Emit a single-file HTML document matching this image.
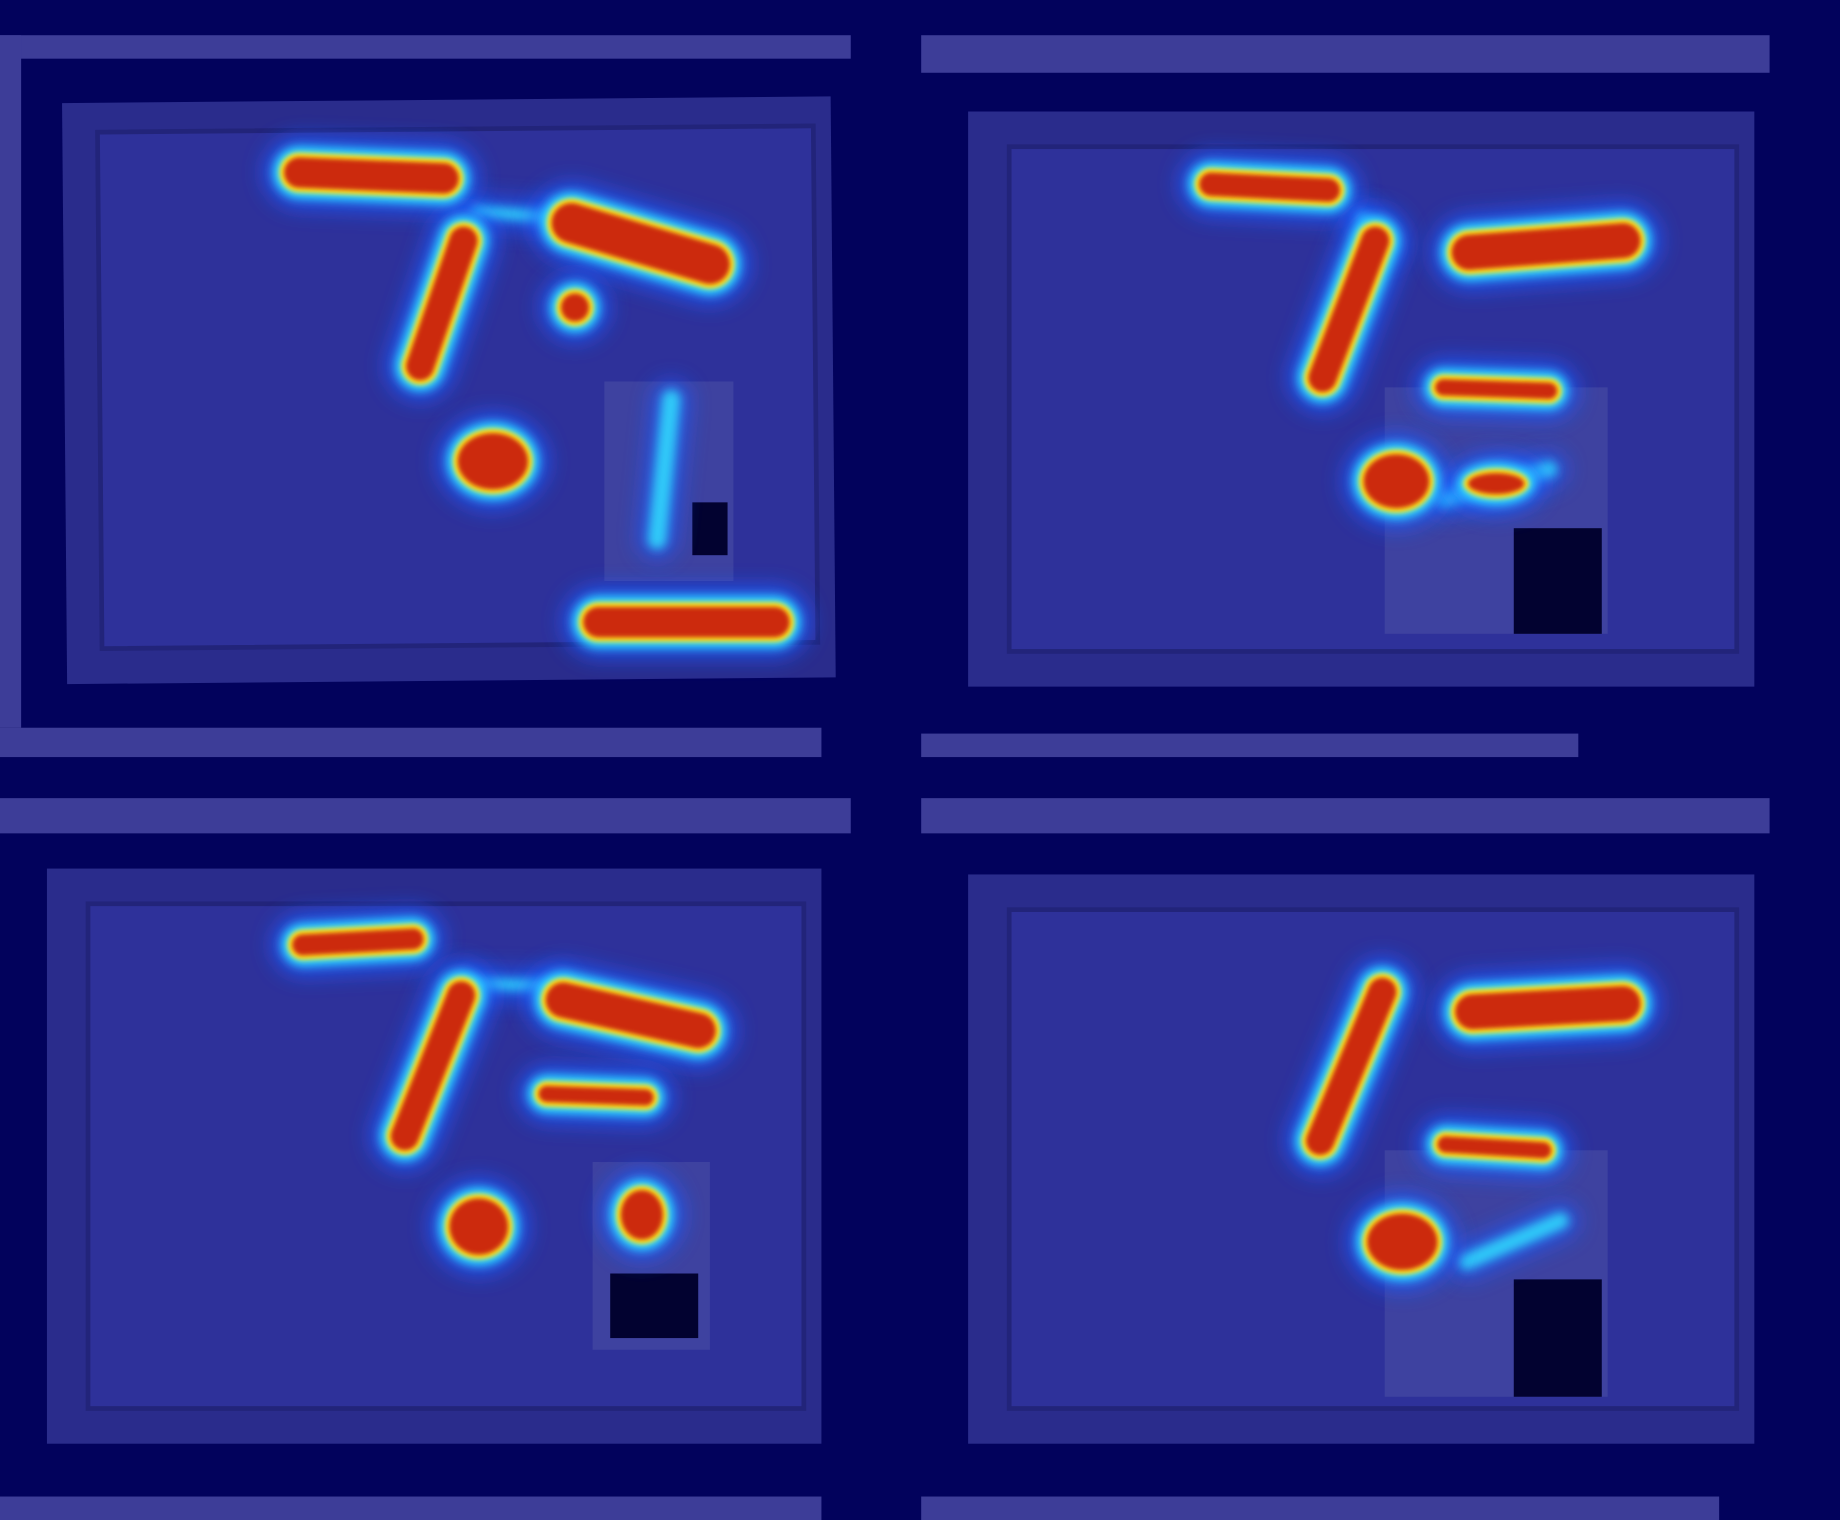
<!DOCTYPE html>
<html><head><meta charset="utf-8"><style>
html,body{margin:0;padding:0;background:#02025c;}
svg{display:block}
</style></head><body>
<svg id="heat" width="1840" height="1520" viewBox="0 0 1568 1295" preserveAspectRatio="none" xmlns="http://www.w3.org/2000/svg">
<defs>
<filter id="b1" filterUnits="userSpaceOnUse" x="0" y="0" width="1568" height="1295"><feGaussianBlur stdDeviation="9"/></filter>
<filter id="b2" filterUnits="userSpaceOnUse" x="0" y="0" width="1568" height="1295"><feGaussianBlur stdDeviation="4"/></filter>
<filter id="b3" filterUnits="userSpaceOnUse" x="0" y="0" width="1568" height="1295"><feGaussianBlur stdDeviation="2"/></filter>
</defs>
<rect width="1568" height="1295" fill="#02025c"/>
<g fill="#3d3d98">
<rect x="0" y="30" width="725" height="20"/><rect x="0" y="30" width="18" height="590"/>
<rect x="785" y="30" width="723" height="32"/>
<rect x="0" y="620" width="700" height="25"/><rect x="785" y="625" width="560" height="20"/>
<rect x="0" y="680" width="725" height="30"/><rect x="785" y="680" width="723" height="30"/>
<rect x="0" y="1275" width="700" height="20"/><rect x="785" y="1275" width="680" height="20"/>
</g>
<g>
<rect x="55" y="85" width="655" height="495" fill="#2a2c8c" transform="rotate(-0.5 380 330)"/>
<rect x="85" y="110" width="610" height="440" fill="#2e319a" stroke="#22247a" stroke-width="4" transform="rotate(-0.5 380 330)"/>
<rect x="825" y="95" width="670" height="490" fill="#2a2c8c"/>
<rect x="860" y="125" width="620" height="430" fill="#2e319a" stroke="#22247a" stroke-width="4"/>
<rect x="40" y="740" width="660" height="490" fill="#2a2c8c"/>
<rect x="75" y="770" width="610" height="430" fill="#2e319a" stroke="#22247a" stroke-width="4"/>
<rect x="825" y="745" width="670" height="485" fill="#2a2c8c"/>
<rect x="860" y="775" width="620" height="425" fill="#2e319a" stroke="#22247a" stroke-width="4"/>
</g>
<g fill="#3e42a0">
<rect x="515" y="325" width="110" height="170"/><rect x="1180" y="330" width="190" height="210"/>
<rect x="505" y="990" width="100" height="160"/><rect x="1180" y="980" width="190" height="210"/>
</g>
<g fill="#020230">
<rect x="590" y="428" width="30" height="45"/><rect x="1290" y="450" width="75" height="90"/>
<rect x="520" y="1085" width="75" height="55"/><rect x="1290" y="1090" width="75" height="100"/>
</g>
<g id="blobs"></g>
</svg>
<script>
// segments: [x1,y1,x2,y2,width]
const segments=[
[255,147,378,152,26],[395,205,358,312,24],[487,190,605,225,34],[510,530,660,530,26],
[1032,157,1132,162,20],[1172,205,1127,322,24],[1252,215,1383,205,30],[1230,330,1320,333,14],
[258,805,352,800,18],[393,848,345,968,24],[480,852,595,878,30],[466,932,550,935,14],
[1178,845,1125,972,24],[1255,862,1383,855,30],[1232,975,1315,980,14]
];
// ellipses: [cx,cy,rx,ry]
const ellipses=[[420,393,30,24],[490,262,12,12],[1190,410,28,23],[1275,412,24,9],[408,1045,25,24],[547,1035,18,21],[1195,1058,30,24]];
// faint cyan trails: [x1,y1,x2,y2,width]
const trails=[[572,340,560,460,16],[405,180,470,185,10],[1250,1075,1330,1040,14],[1230,425,1320,400,14],[400,838,475,840,10],[1160,185,1180,210,10]];
const g=document.getElementById('blobs');
const NS='http://www.w3.org/2000/svg';
const layers=[['#1a5cff',34,'b1',0.8],['#30e8ff',18,'b2',0.95],['#ffe21a',8,'b3',1],['#cc2a10',0,'b3',1]];
function seg(s,col,extra,f,op){const l=document.createElementNS(NS,'line');


l.setAttribute('x1',s[0]);l.setAttribute('y1',s[1]);l.setAttribute('x2',s[2]);l.setAttribute('y2',s[3]);
l.setAttribute('stroke',col);l.setAttribute('stroke-width',s[4]+extra);l.setAttribute('stroke-linecap','round');
l.setAttribute('filter','url(#'+f+')');l.setAttribute('opacity',op);g.appendChild(l);}
function ell(e,col,extra,f,op){const c=document.createElementNS(NS,'ellipse');


c.setAttribute('cx',e[0]);c.setAttribute('cy',e[1]);c.setAttribute('rx',e[2]+extra/2);c.setAttribute('ry',e[3]+extra/2);
c.setAttribute('fill',col);c.setAttribute('filter','url(#'+f+')');c.setAttribute('opacity',op);g.appendChild(c);}
trails.forEach(t=>{seg(t,'#1a5cff',16,'b1',0.7);seg(t,'#30e8ff',0,'b2',0.8);});
layers.forEach(L=>{segments.forEach(s=>seg(s,L[0],L[1],L[2],L[3]));ellipses.forEach(e=>ell(e,L[0],L[1],L[2],L[3]));});
</script>
</body></html>
